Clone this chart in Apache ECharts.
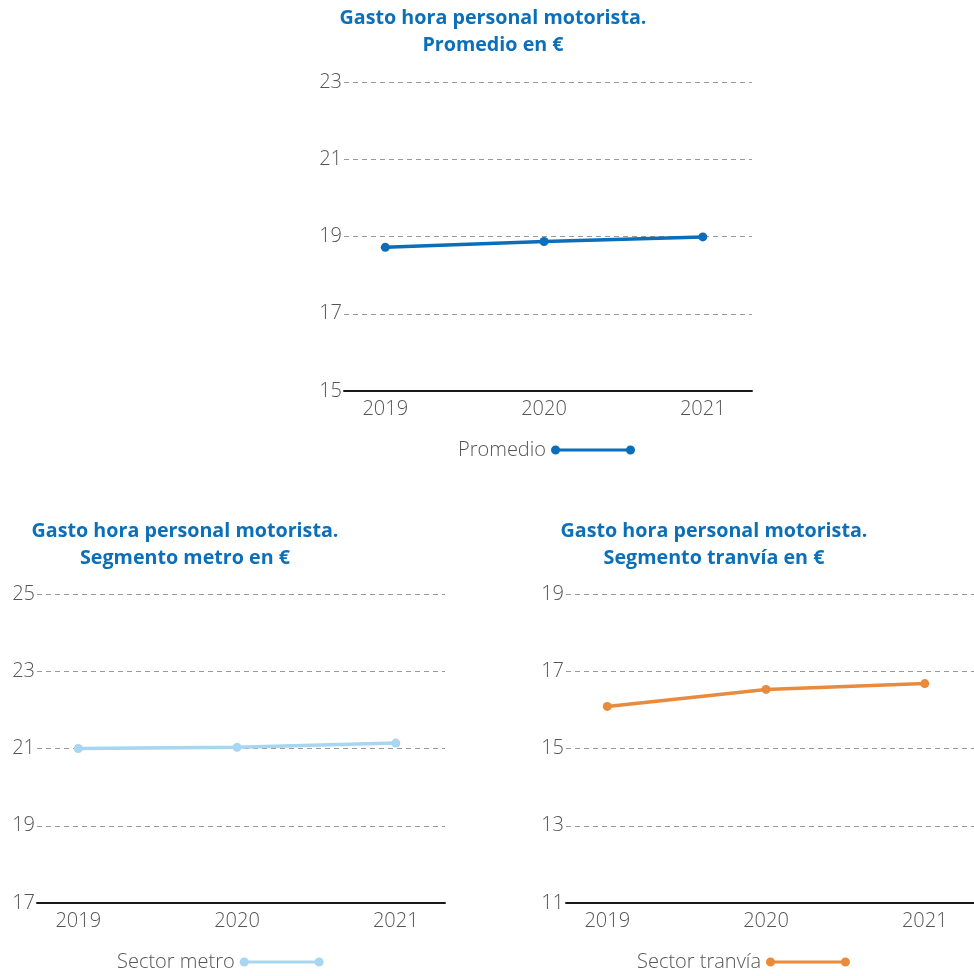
<!DOCTYPE html>
<html>
<head>
<meta charset="utf-8">
<script src="https://cdn.jsdelivr.net/npm/echarts@6/dist/echarts.min.js"></script>
<style>
  html, body { margin: 0; padding: 0; background: #fff; }
  #chart { width: 974px; height: 976px; }
</style>
</head>
<body>
<div id="chart"></div>
<script>
// Years shown on every panel
const years = [2019, 2020, 2021];

// Hourly cost of driving staff (€)
const promedio = [18.72, 18.87, 18.99];
const sectorMetro = [21.0, 21.03, 21.14];
const sectorTranvia = [16.09, 16.53, 16.68];

// Y axis ranges per panel
const promedioTicks = { min: 15, max: 23, interval: 2 };
const metroTicks = { min: 17, max: 25, interval: 2 };
const tranviaTicks = { min: 11, max: 19, interval: 2 };

const titleColor = '#0B6FBA';
const textColor = '#555';
const titleFont = '"Open Sans", sans-serif';
const labelFont = '"Open Sans", sans-serif';
const labelSize = 20;

const colors = {
  promedio: '#0A6EBA',
  metro: '#A8D5F0',
  tranvia: '#E98A3C'
};

// Legend symbol: a line with a dot at each end
const legendIcon = 'path://M0.5,5A4.5,4.5 0 1,1 9.5,5A4.5,4.5 0 1,1 0.5,5Z M74.5,5A4.5,4.5 0 1,1 83.5,5A4.5,4.5 0 1,1 74.5,5Z M5,3.4L79,3.4L79,6.6L5,6.6Z';

const panels = [
  { name: 'Promedio', data: promedio, ticks: promedioTicks, color: colors.promedio,
    grid: { left: 344, top: 82, width: 408, height: 309 },
    legend: { left: 453, top: 435 } },
  { name: 'Sector metro', data: sectorMetro, ticks: metroTicks, color: colors.metro,
    grid: { left: 37, top: 594, width: 408, height: 309 },
    legend: { left: 112, top: 947 } },
  { name: 'Sector tranvía', data: sectorTranvia, ticks: tranviaTicks, color: colors.tranvia,
    grid: { left: 566, top: 594, width: 408, height: 309 },
    legend: { left: 632, top: 947 } }
];

const titleStyle = { textAlign: 'center', fill: titleColor, font: 'bold 19.7px ' + titleFont, lineHeight: 27 };

const option = {
  backgroundColor: '#fff',
  animation: false,
  graphic: [
    { type: 'text', x: 493, y: 5, style: Object.assign({ text: 'Gasto hora personal motorista.\nPromedio en €' }, titleStyle) },
    { type: 'text', x: 185, y: 518, style: Object.assign({ text: 'Gasto hora personal motorista.\nSegmento metro en €' }, titleStyle) },
    { type: 'text', x: 714, y: 518, style: Object.assign({ text: 'Gasto hora personal motorista.\nSegmento tranvía en €' }, titleStyle) }
  ],
  grid: panels.map(p => Object.assign({ containLabel: false }, p.grid)),
  legend: panels.map(p => ({
    data: [p.name],
    left: p.legend.left,
    top: p.legend.top,
    align: 'right',
    icon: legendIcon,
    itemWidth: 84,
    itemHeight: 10,
    itemGap: 0,
    selectedMode: false,
    textStyle: { color: textColor, fontSize: labelSize, fontWeight: 300, fontFamily: labelFont }
  })),
  xAxis: panels.map((p, i) => ({
    type: 'value',
    gridIndex: i,
    min: 2018.74,
    max: 2021.31,
    axisLine: { show: true, onZero: false, lineStyle: { color: '#1a1a1a', width: 2 } },
    axisTick: { show: false },
    splitLine: { show: false },
    axisLabel: {
      customValues: years,
      color: textColor, fontSize: labelSize, fontWeight: 300, fontFamily: labelFont, margin: 8,
      formatter: v => String(v)
    }
  })),
  yAxis: panels.map((p, i) => ({
    type: 'value',
    gridIndex: i,
    min: p.ticks.min,
    max: p.ticks.max,
    interval: p.ticks.interval,
    axisLine: { show: false },
    axisTick: { show: false },
    axisLabel: { color: textColor, fontSize: labelSize, fontWeight: 300, fontFamily: labelFont, margin: 2 },
    splitLine: { show: true, lineStyle: { color: '#9a9a9a', width: 1, type: [5, 4] } }
  })),
  series: panels.map((p, i) => ({
    name: p.name,
    type: 'line',
    xAxisIndex: i,
    yAxisIndex: i,
    data: years.map((y, k) => [y, p.data[k]]),
    symbol: 'circle',
    symbolSize: 9,
    showSymbol: true,
    color: p.color,
    lineStyle: { color: p.color, width: 3.5 },
    itemStyle: { color: p.color },
    z: 5
  }))
};

const chart = echarts.init(document.getElementById('chart'), null, { renderer: 'canvas' });
chart.setOption(option);
</script>
</body>
</html>
